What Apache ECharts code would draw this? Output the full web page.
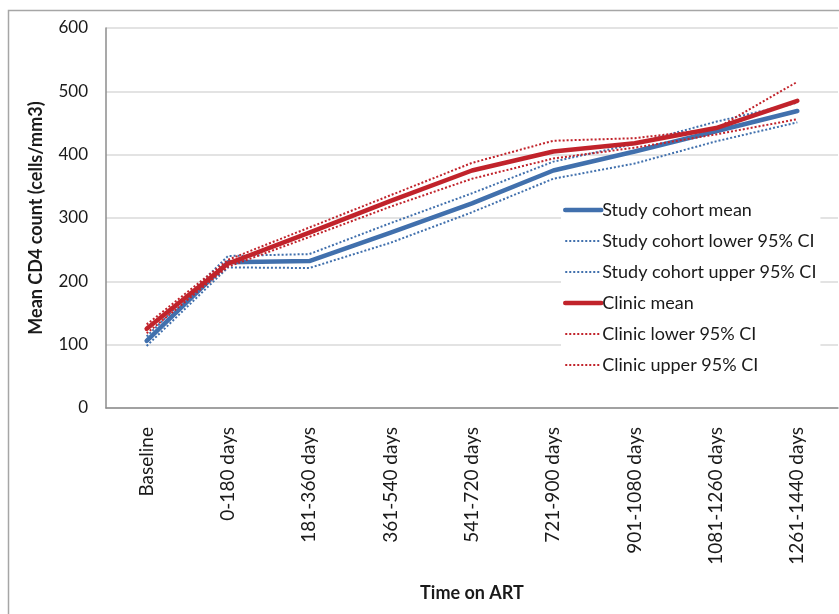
<!DOCTYPE html>
<html>
<head>
<meta charset="utf-8">
<script src="https://cdn.jsdelivr.net/npm/echarts@6/dist/echarts.min.js"></script>
<style>
  html, body { margin: 0; padding: 0; background: #ffffff; }
  #chart { width: 839px; height: 614px; }
</style>
</head>
<body>
<div id="chart"></div>
<script>
// Time windows on antiretroviral therapy
const categories = ['Baseline', '0-180 days', '181-360 days', '361-540 days', '541-720 days',
  '721-900 days', '901-1080 days', '1081-1260 days', '1261-1440 days'];

// Mean CD4 count (cells/mm3) with 95% confidence bounds
const studyMean  = [106, 230, 232, 277, 323, 375, 405, 437, 469];
const studyLower = [98, 222, 221, 261, 309, 362, 386, 421, 451];
const studyUpper = [113, 240, 243, 292, 339, 389, 417, 452, 482];
const clinicMean  = [125, 228, 277, 327, 375, 405, 418, 442, 485];
const clinicLower = [118, 223, 270, 318, 362, 394, 411, 432, 456];
const clinicUpper = [132, 234, 285, 336, 387, 422, 426, 441, 515];

const yTicks = { min: 0, max: 600, interval: 100 };

const BLUE = '#4170ad';
const RED = '#c1232b';
const FONT = 'Lato, "Open Sans", sans-serif';
const MEAN_WIDTH = 4.5;
const CI_WIDTH = 2;
const CI_DASH = [2, 2];

function meanLine(name, data, color) {
  return {
    name, type: 'line', data, symbol: 'none', smooth: false,
    lineStyle: { color, width: MEAN_WIDTH, cap: 'round', join: 'round' },
    itemStyle: { color },
    emphasis: { disabled: true }
  };
}
function ciLine(name, data, color) {
  return {
    name, type: 'line', data, symbol: 'none', smooth: false,
    lineStyle: { color, width: CI_WIDTH, type: CI_DASH },
    itemStyle: { color },
    emphasis: { disabled: true }
  };
}
function legendItem(name, color, isMean) {
  return {
    name,
    lineStyle: isMean
      ? { color, width: MEAN_WIDTH, cap: 'round' }
      : { color, width: CI_WIDTH, type: CI_DASH }
  };
}

const chart = echarts.init(document.getElementById('chart'), null, { renderer: 'canvas' });
chart.setOption({
  animation: false,
  backgroundColor: '#ffffff',
  graphic: [{
    type: 'rect', z: -10, silent: true,
    shape: { x: 8.5, y: 10.5, width: 840, height: 620 },
    style: { fill: 'none', stroke: '#a6a6a6', lineWidth: 1.5 }
  }],
  grid: { left: 106, right: 1, top: 28, bottom: 206, containLabel: false },
  legend: {
    orient: 'vertical', left: 561, top: 199,
    itemWidth: 36, itemHeight: 14, itemGap: 13,
    backgroundColor: '#ffffff', padding: [2, 4, 2, 2],
    itemStyle: { opacity: 0 },
    textStyle: { fontFamily: FONT, fontSize: 18, color: '#1a1a1a', padding: [0, 0, 0, -4] },
    data: [
      legendItem('Study cohort mean', BLUE, true),
      legendItem('Study cohort lower 95% CI', BLUE, false),
      legendItem('Study cohort upper 95% CI', BLUE, false),
      legendItem('Clinic mean', RED, true),
      legendItem('Clinic lower 95% CI', RED, false),
      legendItem('Clinic upper 95% CI', RED, false)
    ]
  },
  xAxis: {
    type: 'category', data: categories, boundaryGap: true,
    name: 'Time on ART', nameLocation: 'middle', nameGap: 176,
    nameTextStyle: { fontFamily: FONT, fontSize: 18, fontWeight: 'bold', color: '#1a1a1a' },
    axisLine: { lineStyle: { color: '#8c8c8c', width: 1.5 } },
    axisTick: { show: false },
    axisLabel: { rotate: 90, margin: 19, fontFamily: FONT, fontSize: 19, color: '#1a1a1a', interval: 0 },
    splitLine: { show: false }
  },
  yAxis: {
    type: 'value', min: yTicks.min, max: yTicks.max, interval: yTicks.interval,
    name: 'Mean CD4 count (cells/mm3)', nameLocation: 'middle', nameGap: 61, nameRotate: 90,
    nameTextStyle: { fontFamily: FONT, fontSize: 18, fontWeight: 'bold', color: '#1a1a1a' },
    axisLine: { show: true, lineStyle: { color: '#8c8c8c', width: 1.5 } },
    axisTick: { show: false },
    axisLabel: { margin: 18, fontFamily: FONT, fontSize: 17, color: '#1a1a1a' },
    splitLine: { lineStyle: { color: '#dadada', width: 1.5 } }
  },
  series: [
    meanLine('Study cohort mean', studyMean, BLUE),
    ciLine('Study cohort lower 95% CI', studyLower, BLUE),
    ciLine('Study cohort upper 95% CI', studyUpper, BLUE),
    meanLine('Clinic mean', clinicMean, RED),
    ciLine('Clinic lower 95% CI', clinicLower, RED),
    ciLine('Clinic upper 95% CI', clinicUpper, RED)
  ]
});
</script>
</body>
</html>
